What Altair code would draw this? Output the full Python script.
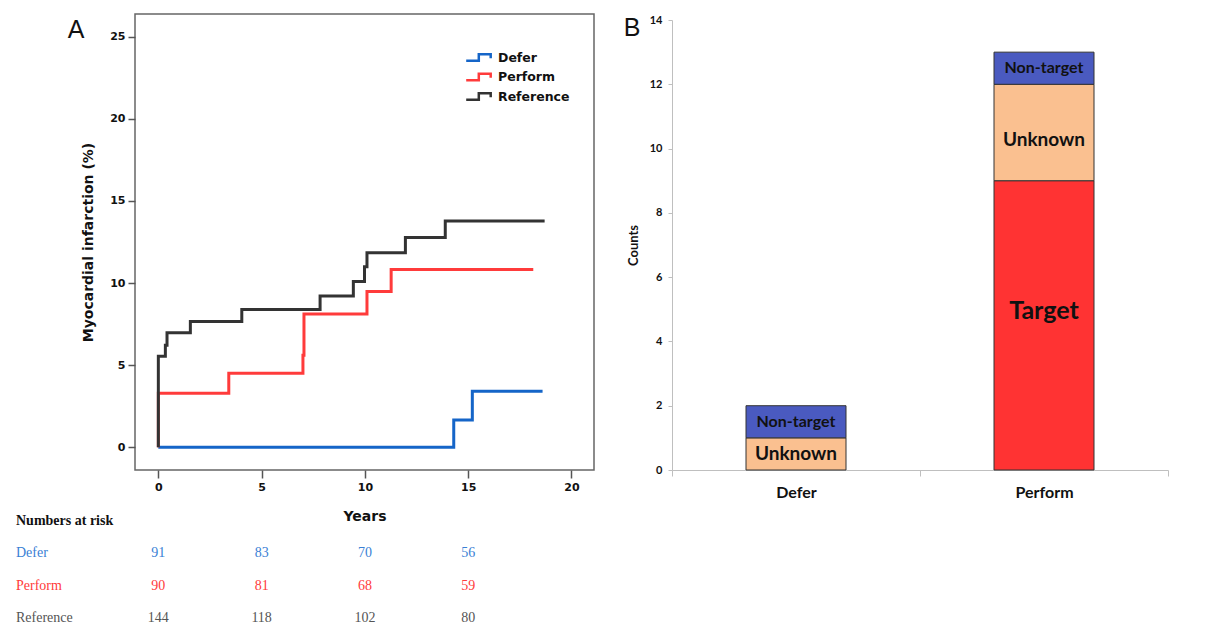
import altair as alt
import pandas as pd

# ---------------- Panel A data (Kaplan-Meier style cumulative incidence) -------------
groups = ["Defer", "Perform", "Reference"]
group_colors = ["#1565C8", "#FF3B3B", "#333333"]

defer_t = [0, 14.3, 15.2, 18.6]
defer_v = [0, 1.66, 3.41, 3.41]
perform_t = [0, 0, 3.41, 7.0, 7.05, 10.1, 11.27, 18.15]
perform_v = [0, 3.29, 4.51, 5.6, 8.11, 9.49, 10.83, 10.83]
ref_t = [0, 0, 0.34, 0.42, 1.55, 4.04, 7.83, 9.44, 9.98, 10.1, 11.96, 13.89, 18.7]
ref_v = [0, 5.55, 6.22, 6.97, 7.66, 8.39, 9.22, 10.1, 11.0, 11.85, 12.78, 13.78, 13.78]

x_ticks = [0, 5, 10, 15, 20]
y_ticks = [0, 5, 10, 15, 20, 25]

# Numbers at risk
risk_header = "Numbers at risk"
risk_years = [0, 5, 10, 15]
risk_defer = [91, 83, 70, 56]
risk_perform = [90, 81, 68, 59]
risk_reference = [144, 118, 102, 80]
risk_colors = ["#3A7FD5", "#FF3B3B", "#555555"]

# ---------------- Panel B data -------------
bar_groups = ["Defer", "Perform"]
bar_cats = ["Target", "Unknown", "Non-target"]
bar_colors = ["#FF3333", "#FAC090", "#4A5AC0"]
defer_counts = [0, 1, 1]
perform_counts = [9, 3, 1]
b_ticks = [0, 2, 4, 6, 8, 10, 12, 14]

# ---------------- build tables -------------
rows = []
for g, ts, vs in zip(groups, [defer_t, perform_t, ref_t], [defer_v, perform_v, ref_v]):
    for i, (t, v) in enumerate(zip(ts, vs)):
        rows.append({"group": g, "t": t, "v": v, "i": i})
km = pd.DataFrame(rows)

risk_rows = []
for g, ns in zip(groups, [risk_defer, risk_perform, risk_reference]):
    for yr, n in zip(risk_years, ns):
        risk_rows.append({"row": g, "year": yr, "n": n})
risk = pd.DataFrame(risk_rows)
risk_labels = pd.DataFrame({"row": groups})
risk_head = pd.DataFrame({"row": [risk_header]})

brows = []
for g, cs in zip(bar_groups, [defer_counts, perform_counts]):
    start = 0
    for k, (c, n) in enumerate(zip(bar_cats, cs)):
        if n > 0:
            brows.append({"group": g, "cat": c, "k": k, "start": start, "end": start + n,
                          "mid": start + n / 2.0})
        start += n
bars_df = pd.DataFrame(brows)
bars_df["fs"] = bars_df["cat"].map({"Target": 25, "Unknown": 19, "Non-target": 16})

FA = "DejaVu Sans"
FT = "Liberation Serif"
FB = "Lato"

xscale = alt.Scale(domain=[-1.13, 21.09], nice=False, zero=False)
yscale = alt.Scale(domain=[-1.38, 26.38], nice=False, zero=False)
row_domain = [risk_header] + groups
row_scale = alt.Scale(type="point", domain=row_domain, range=[507, 604], padding=0)

lines = alt.Chart(km).mark_line(interpolate="step-after", strokeWidth=3).encode(
    x=alt.X("t:Q", scale=xscale,
            axis=alt.Axis(values=x_ticks, title="Years", grid=False, domain=False,
                          tickSize=8, tickColor="#555555", tickWidth=1.5,
                          labelFont=FA, labelFontSize=11, labelFontWeight="bold",
                          labelColor="#111111", labelPadding=3,
                          titleFont=FA, titleFontSize=14, titleFontWeight="bold",
                          titleColor="#111111", titlePadding=17)),
    y=alt.Y("v:Q", scale=yscale,
            axis=alt.Axis(values=y_ticks, title="Myocardial infarction (%)", grid=False,
                          domain=False, tickSize=7, tickColor="#555555", tickWidth=1.5,
                          labelFont=FA, labelFontSize=11, labelFontWeight="bold",
                          labelColor="#111111", labelPadding=3,
                          titleFont=FA, titleFontSize=14, titleFontWeight="bold",
                          titleColor="#111111", titlePadding=14)),
    color=alt.Color("group:N", scale=alt.Scale(domain=groups, range=group_colors),
                    legend=alt.Legend(title=None, orient="none", legendX=336, legendY=35,
                                      symbolType="M-1.9,0.45H-0.1V-0.45H1.6V0.1",
                                      symbolSize=196, symbolStrokeWidth=2.5,
                                      labelFont=FA, labelFontSize=12.5,
                                      labelFontWeight="bold", labelColor="#111111",
                                      labelOffset=10, rowPadding=2.5)),
    order="i:Q",
)

nums = alt.Chart(risk).mark_text(font=FT, fontSize=14, baseline="middle").encode(
    x=alt.X("year:Q", scale=xscale),
    y=alt.Y("row:N", scale=row_scale, axis=None),
    text="n:Q",
    color=alt.Color("row:N", scale=alt.Scale(domain=groups, range=risk_colors), legend=None),
)

labels = alt.Chart(risk_labels).mark_text(font=FT, fontSize=14, baseline="middle",
                                          align="left").encode(
    x=alt.value(-119),
    y=alt.Y("row:N", scale=row_scale, axis=None),
    text="row:N",
    color=alt.Color("row:N", scale=alt.Scale(domain=groups, range=risk_colors), legend=None),
)

head = alt.Chart(risk_head).mark_text(font=FT, fontSize=14, fontWeight="bold",
                                      baseline="middle", align="left",
                                      color="#111111").encode(
    x=alt.value(-119),
    y=alt.Y("row:N", scale=row_scale, axis=None),
    text="row:N",
)

letter_a = alt.Chart(pd.DataFrame({"t": ["A"]})).mark_text(
    font="Liberation Sans", fontSize=25, align="center", baseline="top",
    color="#111111").encode(x=alt.value(-59), y=alt.value(4), text="t:N")

panel_a = alt.layer(lines, nums, labels, head, letter_a).resolve_scale(
    y="independent", color="independent"
).properties(width=459, height=456,
             view=alt.ViewBackground(stroke="#666666", strokeWidth=1.5))

# ---------------- Panel B -------------
bx = alt.X("group:N", scale=alt.Scale(domain=bar_groups, paddingInner=0, paddingOuter=0),
           axis=alt.Axis(title=None, labelAngle=0, tickBand="extent", domainColor="#BFBFBF",
                         tickColor="#BFBFBF", tickSize=6, labelFont=FB, labelFontSize=16,
                         labelFontWeight="bold", labelColor="#111111", labelPadding=8))
by_scale = alt.Scale(domain=[0, 14], nice=False, zero=True)

bars = alt.Chart(bars_df).mark_bar(width=100, stroke="#333333", strokeWidth=1).encode(
    x=bx,
    y=alt.Y("end:Q", scale=by_scale,
            axis=alt.Axis(values=b_ticks, title="Counts", grid=False, domainColor="#BFBFBF",
                          tickColor="#BFBFBF", tickSize=4, labelFont=FB, labelFontSize=11,
                          labelFontWeight="bold", labelColor="#111111", labelPadding=6,
                          titleFont=FB, titleFontSize=13, titleFontWeight="bold",
                          titleColor="#111111", titlePadding=9)),
    y2="start:Q",
    color=alt.Color("cat:N", scale=alt.Scale(domain=bar_cats, range=bar_colors), legend=None),
)

def seg_label(filt, dy):
    return alt.Chart(bars_df).transform_filter(filt).mark_text(
        font=FB, fontWeight="bold", color="#111111", baseline="middle", dy=dy).encode(
        x=bx, y=alt.Y("mid:Q", scale=by_scale), text="cat:N",
        size=alt.Size("fs:Q", scale=None, legend=None),
    )

lab_plain = seg_label("datum.cat != 'Target' && !(datum.group == 'Perform' && datum.cat == 'Unknown')", 0)
lab_pu = seg_label("datum.group == 'Perform' && datum.cat == 'Unknown'", 7)
lab_target = seg_label("datum.cat == 'Target'", -14)

letter_b = alt.Chart(pd.DataFrame({"t": ["B"]})).mark_text(
    font="Liberation Sans", fontSize=25, align="center", baseline="alphabetic",
    color="#111111").encode(x=alt.value(-40), y=alt.value(16), text="t:N")

panel_b = alt.layer(bars, lab_plain, lab_pu, lab_target, letter_b).properties(
    width=496, height=450, view=alt.ViewBackground(stroke="transparent"))

# invisible spacer that pushes panel B's plot area slightly below panel A's
spacer = alt.Chart(pd.DataFrame({"a": [0]})).mark_point(opacity=0, size=0).encode(
    x=alt.value(0), y=alt.value(0)
).properties(width=1, height=1, view=alt.ViewBackground(stroke="transparent"))

right = alt.vconcat(spacer, panel_b, spacing=-3)

chart = alt.hconcat(panel_a, right, spacing=28).properties(
    padding={"left": 7, "top": 5, "right": 5, "bottom": 5}
).configure_view(stroke="transparent").configure_axis(grid=False)

chart.save("out.html", embed_options={"renderer": "svg", "actions": False})
